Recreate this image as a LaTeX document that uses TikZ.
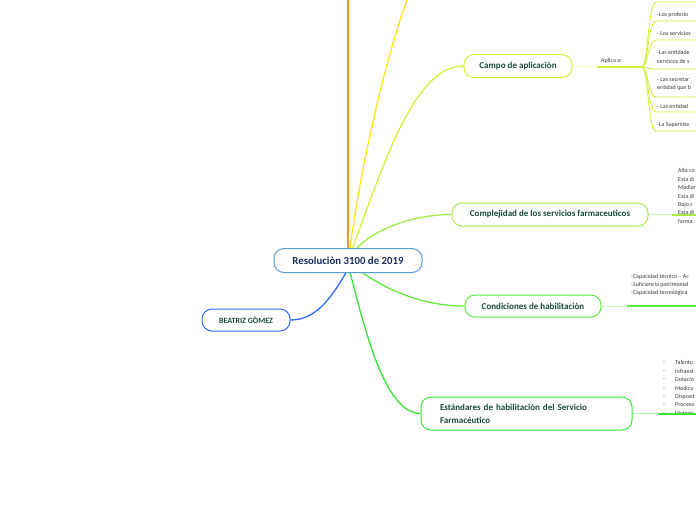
\documentclass[tikz,border=0pt]{standalone}
\usepackage{fontspec}
\setmainfont{Carlito}
\usetikzlibrary{backgrounds}
\definecolor{hubblue}{HTML}{5B9BD5}
\definecolor{hubtext}{HTML}{1B2F5E}
\definecolor{topictext}{HTML}{1C4A3B}
\definecolor{itemgray}{HTML}{3A3A3A}
\definecolor{branchorange}{HTML}{F7941D}
\definecolor{branchyellow}{HTML}{FFE41C}
\definecolor{campogreen}{HTML}{D4F03A}
\definecolor{campopale}{HTML}{EDF8B0}
\definecolor{complegreen}{HTML}{A3EC45}
\definecolor{complepale}{HTML}{D8F6B4}
\definecolor{condgreen}{HTML}{5FEA3C}
\definecolor{condpale}{HTML}{C4F6B4}
\definecolor{estgreen}{HTML}{36E636}
\definecolor{estpale}{HTML}{B4F4B4}
\definecolor{authorblue}{HTML}{2F6BFF}

\begin{document}
\begin{tikzpicture}[x=1pt,y=-1pt,
  topic/.style={draw,fill=white,rounded corners=10pt,line width=1pt,inner sep=0pt,
    text=topictext,font=\bfseries\fontsize{9}{13}\selectfont},
  item/.style={anchor=west,inner sep=0pt,text=itemgray,font=\fontsize{6}{8.4}\selectfont},
  branch/.style={line width=1.3pt}]
  \useasboundingbox (0,0) rectangle (696,520);

  % main topics
  \node[topic,draw=hubblue,text=hubtext,minimum width=148pt,minimum height=24pt,
    font=\bfseries\fontsize{10.8}{12}\selectfont] (res) at (348,260.5) {Resoluciòn 3100 de 2019};
  \node[topic,draw=authorblue,minimum width=88pt,minimum height=22pt,
    font=\bfseries\fontsize{8}{9}\selectfont] (bea) at (246,320) {BEATRIZ GÒMEZ};
  \node[topic,draw=campogreen,minimum width=108pt,minimum height=23pt] (campo) at (518,66) {Campo de aplicaciòn};
  \node[topic,draw=complegreen,minimum width=196pt,minimum height=23pt] (comp) at (550,214.5) {Complejidad de los servicios farmaceuticos};
  \node[topic,draw=condgreen,minimum width=136pt,minimum height=22pt] (cond) at (533,306) {Condiciones de habilitaciòn};
  \node[topic,draw=estgreen,minimum height=33pt,align=left,text width=173pt,inner xsep=19pt] (est) at (526.5,413.5)
    {Estándares de habilitaciòn del Servicio\\Farmacéutico};

  % free ends
  \coordinate (topO) at (348,0);
  \coordinate (topY) at (407,0);

  % text of the sub-branches
  \node[item] (apl) at (601,61) {Aplica a:};
  \foreach \y/\t [count=\i] in {15/-Los profesio,33/- Los servicios,57/{-Las entidade\\servicios de s},
      84/{- Las secretar\\entidad que b},106/- Las entidad,125/-La Superinte}
    \node[item,align=left] (ap\i) at (657,\y) {\t};
  \node[item,align=left] (cxlist) at (678,196) {Alta co\\Esta di\\Mediar\\Esta di\\Bajo c\\Esta di\\farma};
  \node[item,align=left] (cdlist) at (631,285) {-Capacidad técnico – Ac\\-Suficiencia patrimonial\\-Capacidad tecnológica};
  \foreach \t [count=\i] in {Talento,Infraest,Dotació,Medica,Disposit,Proceso,Historia} {
    \node[item] (st\i) at (675,354.5+8.4*\i) {\t};
    \node[item] (dash\i) at (663,354.5+8.4*\i) {-};
  }

  \begin{scope}[on background layer]
    \fill[white] (0,0) rectangle (696,520);
    % branches out of the centre
    \draw[branch,branchorange] (res.north) -- (topO);
    \draw[branch,branchyellow] (res.80) .. controls (360,170) and (385,60) .. (topY);
    \draw[branch,campogreen] (res.70) .. controls (385,160) and (415,66) .. (campo.west);
    \draw[branch,complegreen] (res.55) .. controls (380,225) and (420,214.5) .. (comp.west);
    \draw[branch,condgreen] (res.-40) .. controls (395,295) and (430,306) .. (cond.west);
    \draw[branch,estgreen] (res.-80) .. controls (365,330) and (385,413.5) .. (est.west);
    \draw[branch,authorblue] (res.-100) .. controls (330,300) and (315,320) .. (bea.east);

    % Campo de aplicacion
    \coordinate (aplL) at (597,67);
    \coordinate (aplR) at (642,67);
    \draw[line width=0.8pt,campopale] (campo.east) -- (aplL);
    \draw[line width=2pt,campogreen] (aplL) -- (aplR);
    \foreach \y in {2,21,40,69,97,112,131}
      \draw[line width=0.9pt,campogreen] (aplR) .. controls (648,67) and (648,\y) .. (656,\y) -- (696,\y);
  \end{scope}

  % Complejidad
  \coordinate (cxL) at (672,214.5);
  \draw[line width=0.8pt,complepale] (comp.east) -- (cxL);
  \draw[line width=2pt,complegreen] (cxL) -- (696,214.5);
  % Condiciones
  \coordinate (cdL) at (627,306);
  \draw[line width=0.8pt,condpale] (cond.east) -- (cdL);
  \draw[line width=2.5pt,condgreen] (cdL) -- (696,306);
  % Estandares
  \coordinate (stL) at (658,413.5);
  \draw[line width=0.8pt,estpale] (est.east) -- (stL);
  \draw[line width=2pt,estgreen] (stL) -- (696,413.5);
\end{tikzpicture}
\end{document}
